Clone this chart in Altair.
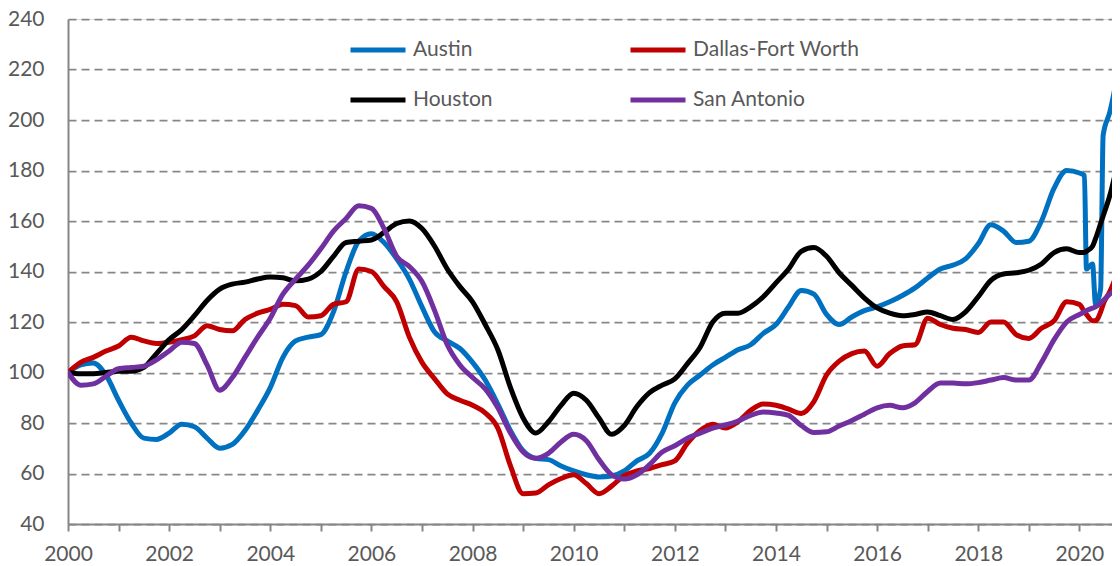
import altair as alt
import pandas as pd

cities = ["Austin", "Dallas-Fort Worth", "Houston", "San Antonio"]
colors = ["#0070C0", "#C00000", "#000000", "#7030A0"]

# quarterly grid 2000.00 .. 2019.75
years_q = [2000 + i * 0.25 for i in range(80)]
# finer points through 2020
years_tail = [2020.0, 2020.1, 2020.14, 2020.26, 2020.32, 2020.42, 2020.47, 2020.6, 2020.8]

austin = [
    100, 103, 103.8, 99,
    89, 80, 74, 73.5,
    76, 79.5, 78.5, 74,
    70, 71.5, 77, 85,
    94, 106, 112.5, 114,
    115, 124, 140, 152,
    155, 151.5, 145, 137,
    126, 116, 112.5, 109.5,
    104, 97, 87.5, 77,
    69, 66, 65.5, 63,
    61, 59.5, 58.6, 59,
    61, 65, 68, 76,
    88, 95, 99, 103,
    106, 109, 111, 115.5,
    119, 126, 132.5, 131,
    123, 119, 122, 124.5,
    126, 128, 130.5, 133.5,
    137.4, 141, 142.5, 145,
    151, 158.5, 156, 151.5,
    152, 160, 173, 180,
]
austin_tail = [179, 178, 141, 143, 127, 133, 194, 203, 223]

dfw = [
    100, 104, 106, 108.5,
    110.5, 114, 112.5, 111.5,
    112, 113, 114.5, 118.5,
    117, 116.5, 121, 123.5,
    125, 127, 126.5, 122,
    122.5, 127, 128, 141,
    140, 134, 128, 114,
    104, 97.5, 91.5, 89,
    87, 84, 78, 63,
    52, 52.3, 55.5, 58,
    59.5, 56, 52, 55,
    59.2, 61, 62, 63.5,
    65, 72, 77, 79.5,
    78, 80.5, 85, 87.5,
    87, 85.5, 83.8, 88.5,
    99, 104.5, 107.5, 108.5,
    102.5, 107.5, 110.5, 111,
    121.5, 119, 117.5, 117,
    115.8, 120, 120, 115,
    113.5, 117.5, 120.5, 128,
]
dfw_tail = [127, 124, 123, 120.5, 120.5, 124, 127, 132, 142]

houston = [
    100, 99.5, 99.5, 100,
    100.5, 100.5, 102, 107.5,
    113, 117, 122.5, 128.5,
    133, 135, 135.8, 137,
    137.8, 137.5, 136.3, 137,
    140, 146, 151.5, 152,
    152.5, 155.5, 159, 160,
    157, 150, 141, 134,
    128, 119, 109, 94,
    82, 76, 80.5, 87,
    91.8, 89, 82, 75.5,
    79, 86.5, 92, 95,
    97.5, 103.5, 110, 120,
    123.5, 123.5, 126, 130,
    135.5, 141, 148, 149.5,
    146, 139.5, 134.5, 129.5,
    125.6, 123.5, 122.5, 123,
    124, 122.5, 121, 124,
    130, 136.5, 139, 139.5,
    140.5, 143, 147.5, 149,
]
houston_tail = [147.5, 147.5, 148, 150, 153, 159, 162, 170, 187]

san_antonio = [
    100, 95, 95.5, 98.5,
    101.5, 102, 102.5, 105,
    108.5, 112, 111.5, 103,
    93, 98, 106, 114,
    121.5, 131, 137, 142.5,
    149, 156, 161, 166,
    165, 157, 146, 142,
    136, 124.5, 111, 103,
    98, 93.5, 86, 76,
    68.5, 66, 68, 72.5,
    75.5, 73, 65.5, 59.5,
    57.8, 59.5, 63.5, 68.5,
    71, 74, 76, 78,
    79.2, 80.8, 83, 84.4,
    84, 83, 79, 76.2,
    76.5, 78.8, 81, 83.5,
    86, 87, 86, 88,
    92.5, 95.8, 95.8, 95.5,
    96, 97, 98, 97,
    97, 104, 113, 120,
]
san_antonio_tail = [123, 124, 124.5, 125.5, 126, 127.5, 128.5, 131, 134]

series = {
    "Austin": austin + austin_tail,
    "Dallas-Fort Worth": dfw + dfw_tail,
    "Houston": houston + houston_tail,
    "San Antonio": san_antonio + san_antonio_tail,
}
years = years_q + years_tail

rows = []
for order, city in enumerate(cities):
    for yr, val in zip(years, series[city]):
        rows.append({"city": city, "order": order, "year": yr, "value": val})
df = pd.DataFrame(rows)

text_color = "#595959"
axis_color = "#868686"
font = "Lato"

chart = (
    alt.Chart(df)
    .mark_line(strokeWidth=5, interpolate="monotone", clip=True, strokeCap="round", strokeJoin="round")
    .encode(
        x=alt.X(
            "year:Q",
            scale=alt.Scale(domain=[2000, 2020.645], nice=False, zero=False),
            axis=alt.Axis(
                values=list(range(2000, 2021)),
                format="d",
                labelExpr="datum.value % 2 == 0 ? datum.label : ''",
                grid=False,
                domainColor=axis_color,
                domainWidth=2,
                tickColor=axis_color,
                tickWidth=2,
                tickSize=7,
                labelFontSize=21,
                labelFont=font,
                labelColor=text_color,
                labelPadding=12,
                labelFlush=False,
                labelOverlap=False,
                title=None,
            ),
        ),
        y=alt.Y(
            "value:Q",
            scale=alt.Scale(domain=[40, 240], nice=False, zero=False),
            axis=alt.Axis(
                values=list(range(40, 241, 20)),
                grid=True,
                gridColor="#878787",
                gridDash=[8, 5],
                gridWidth=1.75,
                ticks=False,
                domainColor=axis_color,
                domainWidth=2,
                labelFontSize=21,
                labelFont=font,
                labelColor=text_color,
                labelPadding=24,
                labelOverlap=False,
                title=None,
            ),
        ),
        color=alt.Color(
            "city:N",
            scale=alt.Scale(domain=cities, range=colors),
            legend=alt.Legend(
                title=None,
                orient="none",
                direction="horizontal",
                legendX=280,
                legendY=1,
                columns=2,
                symbolType="stroke",
                symbolSize=3025,
                symbolStrokeWidth=5,
                labelFontSize=21,
                labelFont=font,
                labelColor=text_color,
                labelOffset=5,
                labelLimit=400,
                columnPadding=127,
                rowPadding=10,
                padding=0,
            ),
        ),
        order=alt.Order("order:Q"),
        detail="city:N",
    )
    .properties(
        width=1044,
        height=505,
        autosize=alt.AutoSizeParams(type="none"),
        padding={"left": 60, "top": 11, "right": 0, "bottom": 40},
    )
    .configure_view(stroke=None)
    .configure(background="white")
)

chart.save("out.html", embed_options={"renderer": "svg", "actions": False})
